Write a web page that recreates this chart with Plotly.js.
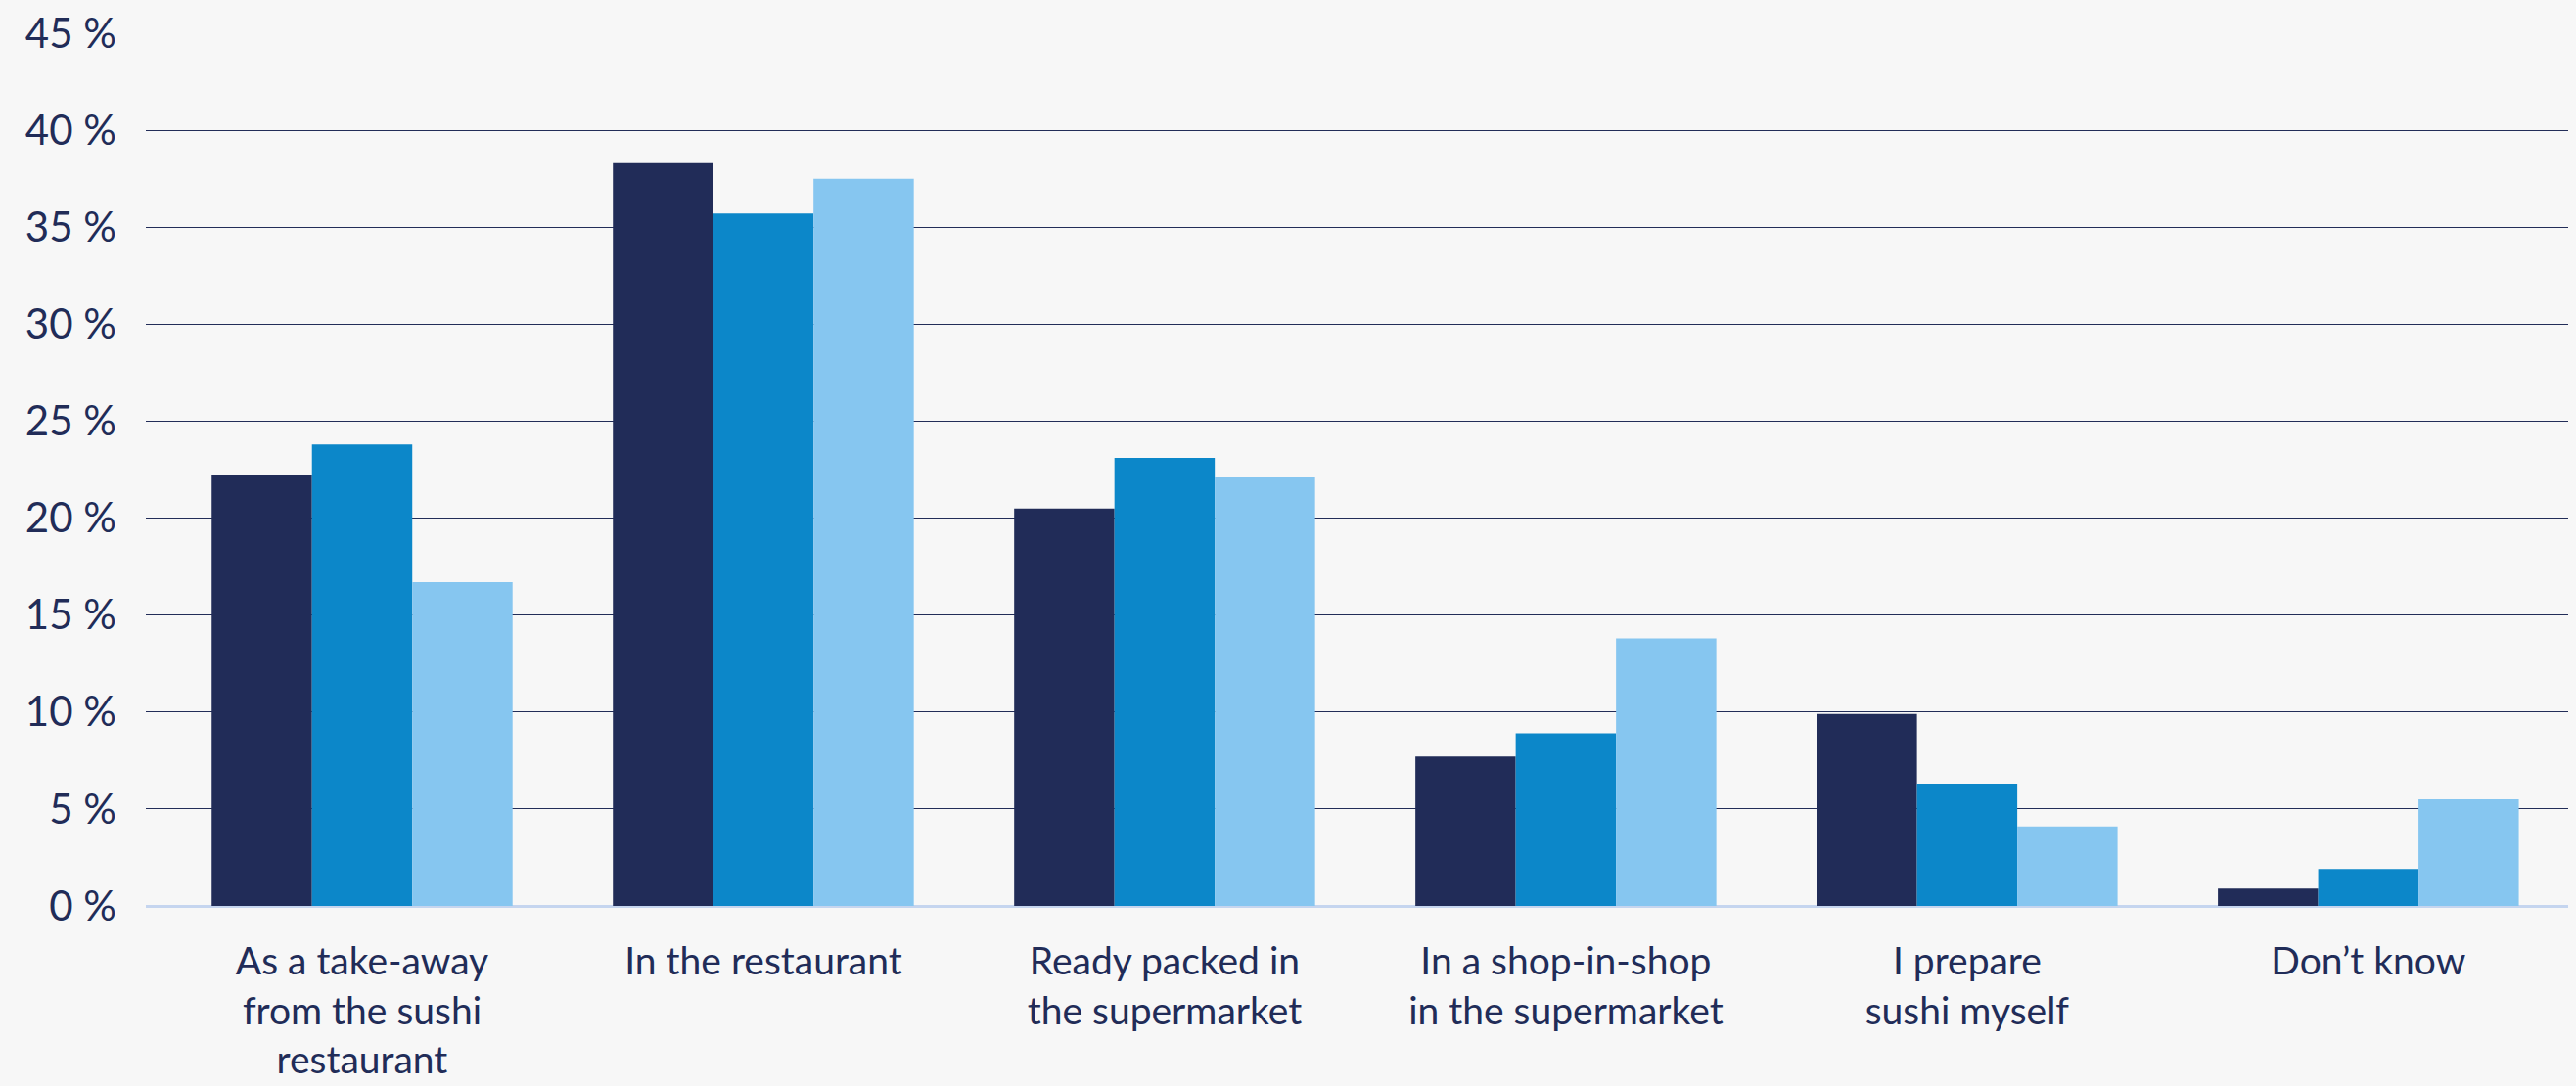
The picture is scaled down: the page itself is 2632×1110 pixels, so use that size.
<!DOCTYPE html>
<html>
<head>
<meta charset="utf-8">
<script src="https://cdn.plot.ly/plotly-3.0.1.min.js"></script>
<style>
  html, body { margin: 0; padding: 0; background: #F7F7F7; }
  #chart { width: 2632px; height: 1110px; }
</style>
</head>
<body>
<div id="chart"></div>
<script>
const categories = [
  "As a take-away<br>from the sushi<br>restaurant",
  "In the restaurant",
  "Ready packed in<br>the supermarket",
  "In a shop-in-shop<br>in the supermarket",
  "I prepare<br>sushi myself",
  "Don’t know"
];
const series1 = [22.2, 38.3, 20.5, 7.7, 9.9, 0.9];
const series2 = [23.8, 35.7, 23.1, 8.9, 6.3, 1.9];
const series3 = [16.7, 37.5, 22.1, 13.8, 4.1, 5.5];
const seriesNames = ["Series 1", "Series 2", "Series 3"];
const colors = ["#212C58", "#0C87C9", "#86C6F0"];
const tickValues = [0, 5, 10, 15, 20, 25, 30, 35, 40, 45];
const tickLabels = ["0 %", "5 %", "10 %", "15 %", "20 %", "25 %", "30 %", "35 %", "40 %", "45 %"];

const xIdx = categories.map((_, i) => i);
const allSeries = [series1, series2, series3];
const data = allSeries.map((vals, k) => ({
  type: "bar",
  x: xIdx,
  y: vals,
  name: seriesNames[k],
  marker: { color: colors[k], line: { width: 0 } },
  hoverinfo: "y"
}));

const layout = {
  width: 2632,
  height: 1110,
  paper_bgcolor: "#F7F7F7",
  plot_bgcolor: "#F7F7F7",
  showlegend: false,
  barmode: "group",
  bargap: 0.25,
  bargroupgap: 0,
  margin: { l: 149, r: 8, t: 34, b: 184 },
  font: { family: "Lato, 'Open Sans', sans-serif", color: "#212C58" },
  xaxis: {
    type: "linear",
    range: [-0.539, 5.498],
    tickvals: xIdx,
    ticktext: categories,
    showgrid: false,
    zeroline: false,
    showline: false,
    ticks: "",
    ticklabelstandoff: 30,
    tickfont: { family: "Lato, 'Open Sans', sans-serif", size: 39, color: "#212C58" },
    fixedrange: true
  },
  yaxis: {
    range: [0, 45],
    tickvals: tickValues,
    ticktext: tickLabels,
    showgrid: true,
    gridcolor: "#222D58",
    gridwidth: 1,
    zeroline: true,
    zerolinecolor: "#C5D5EF",
    zerolinewidth: 3,
    showline: false,
    ticks: "",
    ticklabelstandoff: 29,
    tickfont: { family: "Lato, 'Open Sans', sans-serif", size: 42, color: "#212C58" },
    fixedrange: true
  }
};

Plotly.newPlot("chart", data, layout, { displayModeBar: false, staticPlot: true });
</script>
</body>
</html>
